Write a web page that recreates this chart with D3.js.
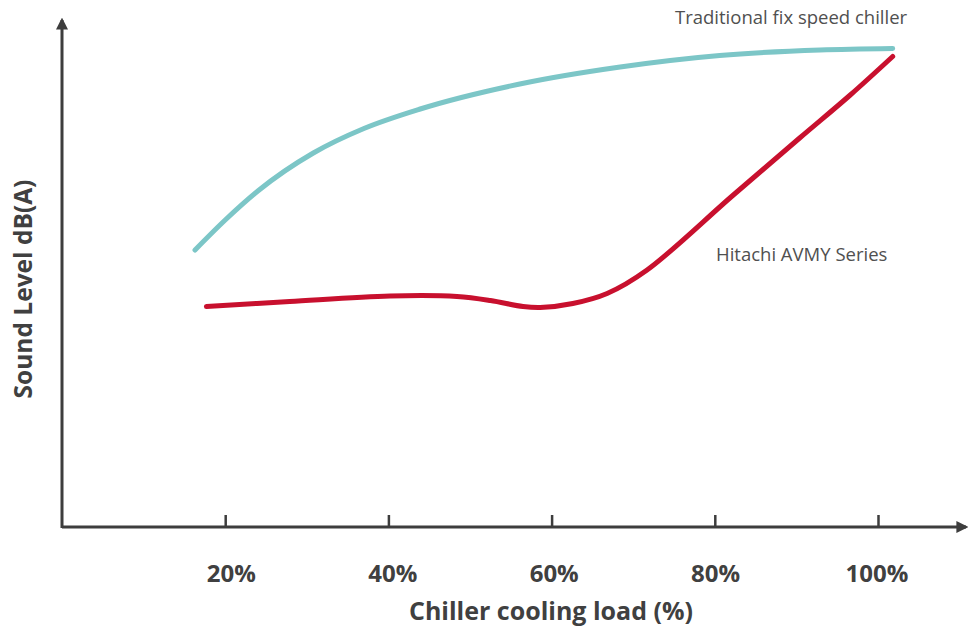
<!DOCTYPE html>
<html>
<head>
<meta charset="utf-8">
<script src="https://cdn.jsdelivr.net/npm/d3@7"></script>
<style>
  html, body { margin: 0; padding: 0; background: #fff; }
  svg { display: block; }
  text { font-family: "Open Sans", "Noto Sans", sans-serif; }
</style>
</head>
<body>
<svg id="chart" width="969" height="627"></svg>
<script>
// Cooling load (%) sampled along each curve, with the sound level (relative units)
const loadTraditional = [16.3, 20.0, 24.0, 30.8, 37.0, 43.9, 56.1, 68.4, 80.6, 92.9, 101.8];
const soundTraditional = [55.4, 61.4, 67.2, 74.8, 79.7, 83.6, 88.6, 92.0, 94.3, 95.4, 95.7];

const loadHitachi = [17.7, 27.9, 40.2, 48.4, 52.5, 56.5, 58.6, 62.6, 66.8, 71.7, 82.2, 90.4, 96.6, 101.8];
const soundHitachi = [44.1, 45.1, 46.2, 46.1, 45.3, 44.1, 43.9, 44.7, 46.7, 51.4, 66.3, 77.8, 86.4, 94.1];

const tickValues = [20, 40, 60, 80, 100];
const tickLabels = ["20%", "40%", "60%", "80%", "100%"];

const seriesNames = ["Traditional fix speed chiller", "Hitachi AVMY Series"];
const xTitle = "Chiller cooling load (%)";
const yTitle = "Sound Level dB(A)";

const svg = d3.select("#chart");
const originX = 62, originY = 527;

const x = d3.scaleLinear().domain([0, 100]).range([originX, 878]);
const y = d3.scaleLinear().domain([0, 100]).range([originY, 27]);

const axisColor = "#3d3d3d";
const textColor = "#404040";

// Axis lines with arrowheads
svg.append("defs").append("marker")
  .attr("id", "arrow").attr("viewBox", "0 0 10 10")
  .attr("refX", 8).attr("refY", 5)
  .attr("markerWidth", 4).attr("markerHeight", 4)
  .attr("orient", "auto-start-reverse")
  .append("path").attr("d", "M0,0 L10,5 L0,10 z").attr("fill", axisColor);

svg.append("line")
  .attr("x1", originX).attr("y1", originY)
  .attr("x2", 966).attr("y2", originY)
  .attr("stroke", axisColor).attr("stroke-width", 3)
  .attr("marker-end", "url(#arrow)");

svg.append("line")
  .attr("x1", originX).attr("y1", originY + 1)
  .attr("x2", originX).attr("y2", 20)
  .attr("stroke", axisColor).attr("stroke-width", 3)
  .attr("marker-end", "url(#arrow)");

// X axis tick marks (drawn above the axis line)
const xAxis = d3.axisTop(x)
  .tickValues(tickValues)
  .tickSize(12)
  .tickFormat(() => "");
const gx = svg.append("g").attr("transform", `translate(0,${originY})`).call(xAxis);
gx.select(".domain").remove();
gx.selectAll(".tick line").attr("stroke", axisColor).attr("stroke-width", 2.5);

// Tick labels sit a little right of their ticks at the low end
svg.append("g").selectAll("text")
  .data(tickValues)
  .join("text")
  .attr("x", d => x(d) + 8 - d * 0.09)
  .attr("y", 582)
  .attr("text-anchor", "middle")
  .attr("font-size", 24)
  .attr("font-weight", "bold")
  .attr("fill", textColor)
  .text((d, i) => tickLabels[i]);

// Axis titles
svg.append("text")
  .attr("x", 551).attr("y", 620)
  .attr("text-anchor", "middle")
  .attr("font-size", 25).attr("font-weight", "bold")
  .attr("fill", textColor)
  .text(xTitle);

svg.append("text")
  .attr("transform", "translate(32,289) rotate(-90)")
  .attr("text-anchor", "middle")
  .attr("font-size", 24.5).attr("font-weight", "bold")
  .attr("fill", textColor)
  .text(yTitle);

// Curves
const smoothLine = d3.line()
  .x(d => x(d[0]))
  .y(d => y(d[1]))
  .curve(d3.curveMonotoneX);

const throughLine = d3.line()
  .x(d => x(d[0]))
  .y(d => y(d[1]))
  .curve(d3.curveCatmullRom.alpha(0.5));

const tradData = loadTraditional.map((v, i) => [v, soundTraditional[i]]);
const hitData = loadHitachi.map((v, i) => [v, soundHitachi[i]]);

svg.append("path")
  .datum(tradData)
  .attr("d", smoothLine)
  .attr("fill", "none")
  .attr("stroke", "#7cc6c7")
  .attr("stroke-width", 5)
  .attr("stroke-linecap", "round");

svg.append("path")
  .datum(hitData)
  .attr("d", throughLine)
  .attr("fill", "none")
  .attr("stroke", "#c8102e")
  .attr("stroke-width", 5)
  .attr("stroke-linecap", "round");

// Series labels
svg.append("text")
  .attr("x", 675).attr("y", 24)
  .attr("font-size", 18.5)
  .attr("fill", "#505050")
  .text(seriesNames[0]);

svg.append("text")
  .attr("x", 716).attr("y", 261)
  .attr("font-size", 18.5)
  .attr("fill", "#505050")
  .text(seriesNames[1]);
</script>
</body>
</html>
